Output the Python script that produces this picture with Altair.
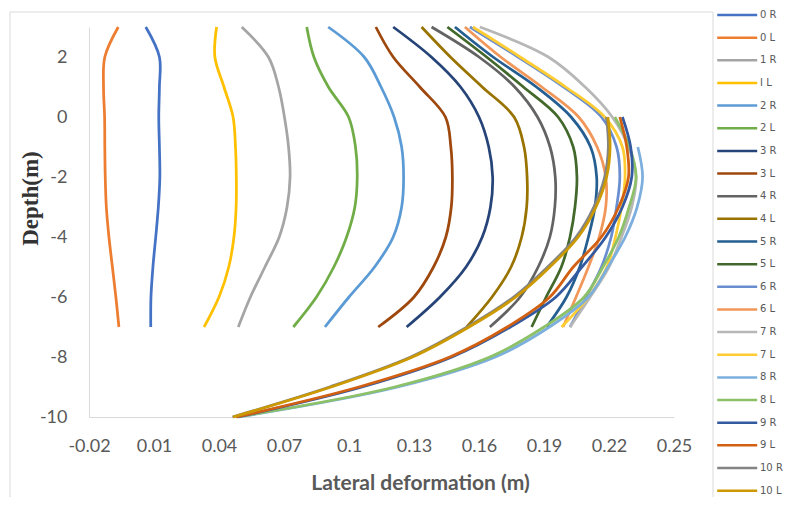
import altair as alt
import pandas as pd

series_names = ["0 R", "0 L", "1 R", "I L", "2 R", "2 L", "3 R", "3 L", "4 R", "4 L", "5 R",
                "5 L", "6 R", "6 L", "7 R", "7 L", "8 R", "8 L", "9 R", "9 L", "10 R", "10 L"]
series_colors = ["#4472C4", "#ED7D31", "#A5A5A5", "#FFC000", "#5B9BD5", "#70AD47", "#264478",
                 "#9E480E", "#636363", "#997300", "#255E91", "#43682B", "#698ED0", "#F1975A",
                 "#B7B7B7", "#FFCD33", "#7CAFDD", "#8CC168", "#335AA1", "#D26012", "#848484",
                 "#CC9A00"]

x_ticks = [-0.02, 0.01, 0.04, 0.07, 0.1, 0.13, 0.16, 0.19, 0.22, 0.25]
y_ticks = [-10, -8, -6, -4, -2, 0, 2]

depth_upper = [3, 2, 1, 0, -1, -2, -3, -4, -5, -6, -7]
depth_lower = [0, -1, -2, -3, -4, -5, -6, -7, -8, -9, -10]
depth_8r = [-1, -2, -3, -4, -5, -6, -7, -8, -9, -10]

s_0r = [0.0062, 0.0125, 0.0125, 0.0122, 0.0125, 0.0127, 0.0120, 0.0108, 0.0095, 0.0086, 0.0085]
s_0l = [-0.0065, -0.0127, -0.0133, -0.0128, -0.0127, -0.0125, -0.0120, -0.0108, -0.0092, -0.0076, -0.0062]
s_1r = [0.0505, 0.0628, 0.0675, 0.0702, 0.0721, 0.0728, 0.0714, 0.0678, 0.0612, 0.0545, 0.0489]
s_1l = [0.0389, 0.0381, 0.0423, 0.0465, 0.0476, 0.0480, 0.0479, 0.0469, 0.0445, 0.0400, 0.0331]
s_2r = [0.0904, 0.1070, 0.1148, 0.1208, 0.1243, 0.1252, 0.1243, 0.1204, 0.1118, 0.1000, 0.0889]
s_2l = [0.0805, 0.0838, 0.0905, 0.0998, 0.1030, 0.1038, 0.1027, 0.0989, 0.0930, 0.0850, 0.0743]
s_3r = [0.1204, 0.1380, 0.1515, 0.1600, 0.1645, 0.1663, 0.1653, 0.1615, 0.1540, 0.1420, 0.1266]
s_3l = [0.1124, 0.1204, 0.1327, 0.1445, 0.1470, 0.1477, 0.1472, 0.1447, 0.1390, 0.1300, 0.1135]
s_4r = [0.1381, 0.1600, 0.1765, 0.1870, 0.1928, 0.1952, 0.1950, 0.1927, 0.1873, 0.1790, 0.1650]
s_4l = [0.1335, 0.1468, 0.1615, 0.1762, 0.1808, 0.1822, 0.1820, 0.1797, 0.1748, 0.1660, 0.1543]
s_5r = [0.1489, 0.1665, 0.1865, 0.2025, 0.2115, 0.2143, 0.2135, 0.2105, 0.2065, 0.2004, 0.1912]
s_5l = [0.1454, 0.1635, 0.1805, 0.1965, 0.2035, 0.2052, 0.2043, 0.2020, 0.1980, 0.1910, 0.1843]
s_6r = [0.1558, 0.1780, 0.1990, 0.2165, 0.2235, 0.2250, 0.2235, 0.2210, 0.2165, 0.2095, 0.2020]
s_6l = [0.1535, 0.1700, 0.1890, 0.2060, 0.2145, 0.2185, 0.2185, 0.2155, 0.2105, 0.2048, 0.1988]
s_7r = [0.1604, 0.1920, 0.2090, 0.2215, 0.2290, 0.2325, 0.2305, 0.2258, 0.2200, 0.2113, 0.2020]
s_7l = [0.1572, 0.1790, 0.2000, 0.2180, 0.2262, 0.2274, 0.2258, 0.2230, 0.2190, 0.2105, 0.1981]
s_8r = [0.2333, 0.2355, 0.2330, 0.2275, 0.2195, 0.2105, 0.1925, 0.1675, 0.1225, 0.0490]
s_8l = [0.2227, 0.2295, 0.2325, 0.2293, 0.2245, 0.2172, 0.2085, 0.1900, 0.1650, 0.1210, 0.0481]
s_9r = [0.2262, 0.2300, 0.2305, 0.2262, 0.2185, 0.2075, 0.1955, 0.1745, 0.1475, 0.1060, 0.0485]
s_9l = [0.2250, 0.2282, 0.2290, 0.2245, 0.2165, 0.2035, 0.1927, 0.1730, 0.1465, 0.1045, 0.0480]
s_10r = [0.2188, 0.2197, 0.2180, 0.2130, 0.2048, 0.1917, 0.1760, 0.1545, 0.1285, 0.0910, 0.0462]
s_10l = [0.2195, 0.2205, 0.2189, 0.2140, 0.2058, 0.1927, 0.1770, 0.1554, 0.1293, 0.0917, 0.0465]

series_values = [s_0r, s_0l, s_1r, s_1l, s_2r, s_2l, s_3r, s_3l, s_4r, s_4l, s_5r, s_5l,
                 s_6r, s_6l, s_7r, s_7l, s_8r, s_8l, s_9r, s_9l, s_10r, s_10l]
series_depths = [depth_upper] * 16 + [depth_8r] + [depth_lower] * 5

rows = []
for name, vals, depths in zip(series_names, series_values, series_depths):
    for k, (d, v) in enumerate(zip(depths, vals)):
        rows.append({"series": name, "depth": d, "disp": v, "k": k})
df = pd.DataFrame(rows)

label_font = "Lato"
grey = "#595959"

lines = alt.Chart(df).mark_line(interpolate="catmull-rom", strokeWidth=2.75).encode(
    x=alt.X("disp:Q",
            scale=alt.Scale(domain=[-0.02, 0.25], nice=False, zero=False),
            axis=alt.Axis(values=x_ticks, labelExpr="'' + datum.value", labelFlush=False,
                          title="Lateral deformation (m)",
                          titleFont=label_font, titleFontWeight="bold", titleFontSize=21,
                          titleColor=grey, titleX=331, titleY=66, titleAlign="center",
                          titleBaseline="middle", labelPadding=20)),
    y=alt.Y("depth:Q",
            scale=alt.Scale(domain=[-10, 3], nice=False, zero=False),
            axis=alt.Axis(values=y_ticks, labelExpr="'' + datum.value", labelFlush=False,
                          title="Depth(m)",
                          titleFont="Liberation Serif", titleFontWeight="bold",
                          titleFontSize=23, titleColor="#333333", titleAngle=270,
                          titleX=-59, titleY=171, titleAlign="center",
                          titleBaseline="middle", labelPadding=22)),
    color=alt.Color("series:N",
                    scale=alt.Scale(domain=series_names, range=series_colors),
                    legend=alt.Legend(title=None, orient="none", legendX=641.7, legendY=-18.5,
                                      symbolType="M-4,0H4", symbolSize=100,
                                      symbolStrokeWidth=2.5, labelFont="DejaVu Sans",
                                      labelFontSize=10, labelColor=grey, labelOffset=16.3,
                                      rowPadding=10.65, padding=0)),
    order=alt.Order("k:Q"),
)

frame = alt.Chart(pd.DataFrame({"f": [0]})).mark_rect(
    fillOpacity=0, stroke="#D9D9D9", strokeWidth=1
).encode(x=alt.value(-79), x2=alt.value(624), y=alt.value(-15), y2=alt.value(475))

chart = alt.layer(frame, lines).properties(
    width=585, height=390,
    autosize=alt.AutoSizeParams(type="none"),
    padding={"left": 81, "top": 19, "right": 110, "bottom": 80},
).configure_axis(
    grid=False, ticks=False, domainColor="#D9D9D9", domainWidth=1,
    labelFont=label_font, labelFontSize=18, labelColor=grey,
).configure_view(stroke="transparent")

chart.save("out.html", embed_options={"renderer": "svg", "actions": False})
